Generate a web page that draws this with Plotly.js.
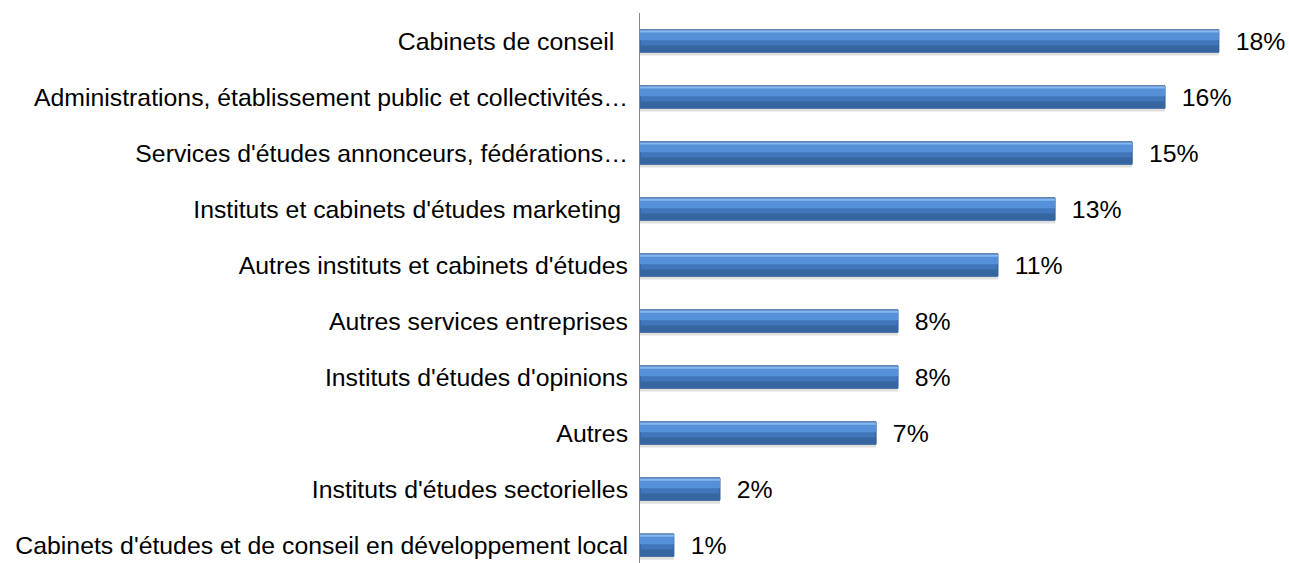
<!DOCTYPE html>
<html>
<head>
<meta charset="utf-8">
<script src="https://cdn.plot.ly/plotly-3.0.1.min.js"></script>
<style>
  html, body { margin: 0; padding: 0; background: #ffffff; }
  #chart { width: 1289px; height: 563px; }
</style>
</head>
<body>
<div id="chart"></div>
<script>
// categories, top to bottom
const categories = [
  "Cabinets de conseil\u00a0\u00a0",
  "Administrations, établissement public et collectivités…",
  "Services d'études annonceurs, fédérations…",
  "Instituts et cabinets d'études marketing\u00a0",
  "Autres instituts et cabinets d'études",
  "Autres services entreprises",
  "Instituts d'études d'opinions",
  "Autres",
  "Instituts d'études sectorielles",
  "Cabinets d'études et de conseil en développement local"
];

// shares in percent
const shares = [17.95, 16.28, 15.26, 12.87, 11.1, 8.0, 8.0, 7.32, 2.48, 1.05];

// labels as printed on the chart
const shareLabels = ["18%", "16%", "15%", "13%", "11%", "8%", "8%", "7%", "2%", "1%"];

const FONT = "Liberation Sans, Arial, sans-serif";
const FS = 24.8;

// layered bars give the bevelled Excel look
function layer(color, offset, width, extra) {
  return Object.assign({
    type: "bar",
    orientation: "h",
    y: categories,
    x: shares,
    offset: offset,
    width: width,
    marker: { color: color, line: { width: 0 } },
    hoverinfo: "skip"
  }, extra || {});
}

const shadow = layer("rgba(0,0,0,0.12)", -0.17, 0.43);

const mainBars = layer("#4176bb", -0.2, 0.4, {
  marker: {
    color: "#4176bb",
    line: { color: "#2d5a90", width: 1 }
  },
  text: shareLabels.map(t => "\u00a0\u00a0" + t),
  textposition: "outside",
  constraintext: "none",
  cliponaxis: false,
  textfont: { family: FONT, size: FS, color: "#000000" }
});

const upper = layer("#5590d8", -0.185, 0.17);
const shine = layer("#86b8ee", -0.19, 0.04);
const lower = layer("#36659f", 0.08, 0.11);

const layout = {
  width: 1289,
  height: 563,
  margin: { l: 640, r: 4, t: 13, b: 0 },
  paper_bgcolor: "#ffffff",
  plot_bgcolor: "#ffffff",
  showlegend: false,
  barmode: "overlay",
  font: { family: FONT, size: FS, color: "#000000" },
  xaxis: {
    range: [0, 20],
    showgrid: false,
    zeroline: false,
    showline: false,
    showticklabels: false,
    ticks: ""
  },
  yaxis: {
    type: "category",
    range: [9.32, -0.5],
    showgrid: false,
    zeroline: false,
    showline: true,
    linecolor: "#868686",
    linewidth: 1,
    ticks: "",
    ticklabelstandoff: 6,
    tickfont: { family: FONT, size: FS, color: "#000000" }
  }
};

Plotly.newPlot("chart", [shadow, mainBars, upper, shine, lower], layout, {
  displayModeBar: false,
  staticPlot: true
});
</script>
</body>
</html>
